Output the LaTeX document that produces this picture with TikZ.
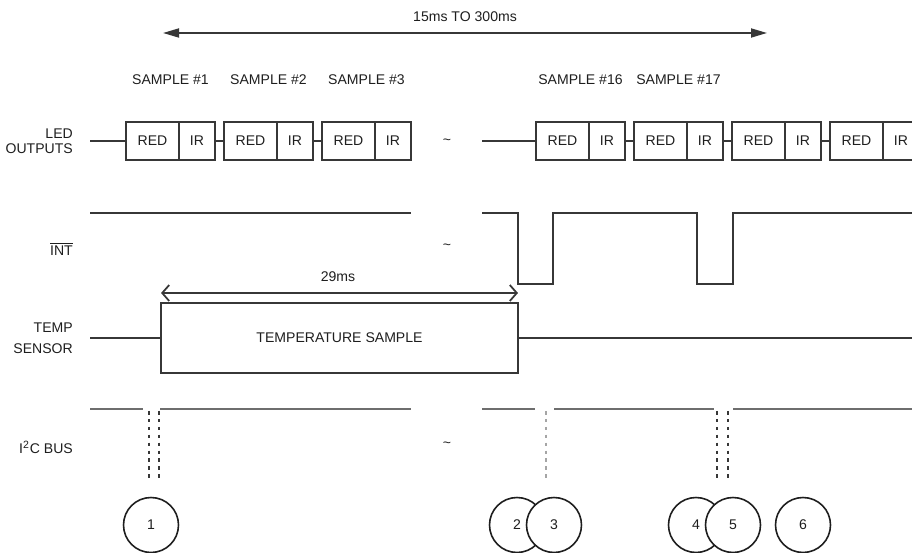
\documentclass[tikz,border=0pt]{standalone}
\usepackage{fontspec}
\setmainfont{Liberation Sans}
\usetikzlibrary{positioning,calc,arrows.meta}
\definecolor{wireGray}{RGB}{55,55,55}
\definecolor{busGray}{RGB}{110,110,110}
\definecolor{faintGray}{RGB}{165,165,165}
\definecolor{inkBlack}{RGB}{30,30,30}

\begin{document}
\begin{tikzpicture}[x=0.02cm, y=-0.02cm,
    font=\fontsize{8}{9}\selectfont, text=inkBlack,
    redbox/.style={draw=wireGray, line width=0.9pt, minimum width=1.06cm, minimum height=0.76cm, inner sep=0pt, outer sep=0pt},
    irbox/.style={redbox, minimum width=0.72cm},
    wire/.style={draw=wireGray, line width=1pt},
    buswire/.style={draw=busGray, line width=1.6pt},
    tick/.style={draw=wireGray, line width=1pt, dash pattern=on 2pt off 2.5pt},
    marker/.style={circle, draw=inkBlack, line width=0.9pt, fill=white, minimum size=1.1cm, inner sep=0pt},
    rowlabel/.style={anchor=east, align=right},
]
\useasboundingbox (0,0) rectangle (912,553);
\clip (0,0) rectangle (912,553);

% overall span
\coordinate (spanL) at (163,33);
\coordinate (spanR) at (767,33);
\draw[wire, {Triangle[length=0.32cm,width=0.18cm]}-{Triangle[length=0.32cm,width=0.18cm]}] (spanL) -- (spanR);
\node (span) at (465,17) {15ms TO 300ms};

% row labels
\node[rowlabel, font=\fontsize{8}{8.6}\selectfont] (ledlbl) at (79,141) {LED\\OUTPUTS};
\node[rowlabel] (intlbl) at (79,249) {$\overline{\mbox{INT}}$};
\node[rowlabel, font=\fontsize{8}{12}\selectfont] (templbl) at (79,338) {TEMP\\SENSOR};
\node[rowlabel] (i2clbl) at (79,447) {I\textsuperscript{2}C BUS};

% LED outputs, first run
\node[redbox, anchor=west] (r1) at (126,141) {RED};
\node[irbox, right=0pt of r1] (i1) {IR};
\node[redbox, right=0.18cm of i1] (r2) {RED};
\node[irbox, right=0pt of r2] (i2) {IR};
\node[redbox, right=0.18cm of i2] (r3) {RED};
\node[irbox, right=0pt of r3] (i3) {IR};

% LED outputs, second run
\node[redbox, anchor=west] (r4) at (536,141) {RED};
\node[irbox, right=0pt of r4] (i4) {IR};
\node[redbox, right=0.18cm of i4] (r5) {RED};
\node[irbox, right=0pt of r5] (i5) {IR};
\node[redbox, right=0.18cm of i5] (r6) {RED};
\node[irbox, right=0pt of r6] (i6) {IR};
\node[redbox, right=0.18cm of i6] (r7) {RED};
\node[irbox, right=0pt of r7] (i7) {IR};

\coordinate (ledA) at (90,141);
\coordinate (ledB) at (482,141);
\draw[wire] (ledA) -- (r1.west);
\draw[wire] (i1.east) -- (r2.west);
\draw[wire] (i2.east) -- (r3.west);
\draw[wire] (ledB) -- (r4.west);
\draw[wire] (i4.east) -- (r5.west);
\draw[wire] (i5.east) -- (r6.west);
\draw[wire] (i6.east) -- (r7.west);

% sample labels
\node (s1) at ($(r1.north west)!0.5!(i1.north east)+(0,-42)$) {SAMPLE \#1};
\node (s2) at ($(r2.north west)!0.5!(i2.north east)+(0,-42)$) {SAMPLE \#2};
\node (s3) at ($(r3.north west)!0.5!(i3.north east)+(0,-42)$) {SAMPLE \#3};
\node (s16) at ($(r4.north west)!0.5!(i4.north east)+(0,-42)$) {SAMPLE \#16};
\node (s17) at ($(r5.north west)!0.5!(i5.north east)+(0,-42)$) {SAMPLE \#17};

% time breaks
\node (brk1) at (447,142) {\textasciitilde};
\node (brk2) at (447,247) {\textasciitilde};
\node (brk3) at (447,445) {\textasciitilde};

% INT line
\draw[wire] (90,213) -- (411,213);
\draw[wire] (482,213) -- (518,213) -- (518,284) -- (553,284) -- (553,213)
    -- (697,213) -- (697,284) -- (733,284) -- (733,213) -- (912,213);

% temperature sensor
\node[draw=wireGray, line width=1pt, minimum width=7.14cm, minimum height=1.4cm, inner sep=0pt, outer sep=0pt] (tsamp) at (339.5,338) {TEMPERATURE SAMPLE};
\coordinate (tempA) at (90,338);
\coordinate (tempB) at (912,338);
\draw[wire] (tempA) -- (tsamp.west);
\draw[wire] (tsamp.east) -- (tempB);
\draw[wire, {Straight Barb[length=0.14cm,width=0.32cm]}-{Straight Barb[length=0.14cm,width=0.32cm]}]
    ($(tsamp.north west)+(0,-10)$) -- ($(tsamp.north east)+(0,-10)$);
\node (dur) at (338,277) {29ms};

% I2C bus
\draw[buswire] (90,409) -- (143,409);
\draw[buswire] (160,409) -- (411,409);
\draw[buswire] (482,409) -- (535,409);
\draw[buswire] (554,409) -- (714,409);
\draw[buswire] (733,409) -- (912,409);
\draw[tick] (149,411) -- (149,481);
\draw[tick] (159,411) -- (159,481);
\draw[tick, draw=faintGray] (546,411) -- (546,481);
\draw[tick] (717,411) -- (717,481);
\draw[tick] (728,411) -- (728,481);

% events
\node[marker] (e1) at (151,525) {1};
\node[marker] (e2) at (517,525) {2};
\node[marker] (e3) at (554,525) {3};
\node[marker] (e4) at (696,525) {4};
\node[marker] (e5) at (733,525) {5};
\node[marker] (e6) at (803,525) {6};
\end{tikzpicture}
\end{document}
